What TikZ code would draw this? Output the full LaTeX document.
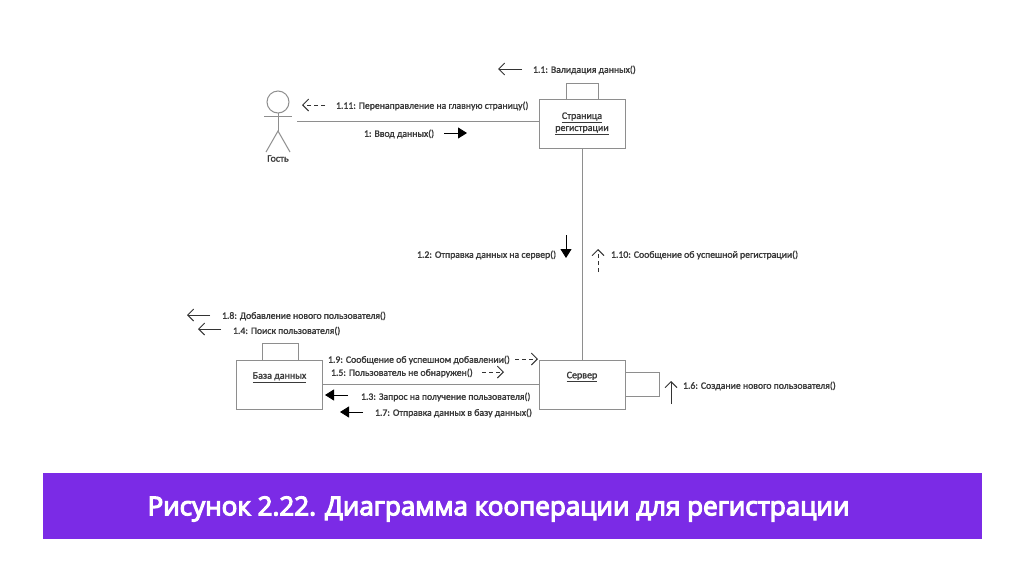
\documentclass[tikz,border=0pt]{standalone}
\usepackage{fontspec}
\setmainfont{Carlito}
\newfontfamily\captionfont[FakeBold=4.5]{Open Sans}
\newfontfamily\labelfont[FakeBold=1.5]{Carlito}
\usetikzlibrary{arrows.meta}
\definecolor{umlgray}{HTML}{8E8E8E}
\definecolor{msgtext}{HTML}{3A3A3A}
\definecolor{bannerviolet}{HTML}{7B2BE6}
\begin{document}
\begin{tikzpicture}[
        x=1pt, y=-1pt,
        every node/.style={inner sep=0pt, outer sep=0pt},
        umlline/.style={draw=umlgray, line width=1pt},
        objbox/.style={umlline, rectangle, minimum width=86pt, minimum height=49pt, text=msgtext, font=\labelfont\fontsize{10}{12}\selectfont, align=center},
        msg/.style={anchor=west, text=msgtext, font=\labelfont\fontsize{9.75}{11}\selectfont},
        openmsg/.style={draw=black!80, line width=0.9pt, -{Straight Barb[length=6pt, width=12pt]}},
        dashmsg/.style={openmsg, dash pattern=on 4pt off 3pt},
        fullmsg/.style={draw=black, line width=0.9pt, -{Triangle[length=9pt, width=11pt]}}
    ]
    \useasboundingbox (0,0) rectangle (1024,574);
    \fill[white] (0,0) rectangle (1024,574);

    \node[objbox] (reg) at (582,123.5) {\underline{Страница}\\\underline{регистрации}};
    \node[objbox] (server) at (582,384.5) [text depth=19pt] {\underline{Сервер}};
    \node[objbox] (base) at (279.5,384.5) [text depth=18pt] {\underline{База данных}};

    \node[umlline, circle, minimum size=22pt] (guesthead) at (278,102) {};
    \coordinate (guesthip) at (278,131);
    \coordinate (guestend) at (297,121);
    \draw[umlline] (guesthead.south) -- (guesthip);
    \draw[umlline] (264,116) -- (292,116);
    \draw[umlline] (266,152) -- (guesthip) -- (290,152);
    \node[text=msgtext, font=\labelfont\fontsize{10}{11}\selectfont] (guest) at (278,158.5) {Гость};

    \draw[umlline] (guestend) -- (reg.west |- guestend);
    \draw[umlline] (reg.south) -- (server.north);
    \draw[umlline] (base.east) -- (server.west);
    \draw[umlline] ([xshift=-16pt]reg.north) -- ++(0,-16) -| ([xshift=16pt]reg.north);
    \draw[umlline] ([xshift=-17pt]base.north) -- ++(0,-17) -| ([xshift=19pt]base.north);
    \draw[umlline] ([yshift=-12pt]server.east) -- ++(34,0) |- ([yshift=12pt]server.east);

    \node[msg] (m1) at (364,134) {1: Ввод данных()};
    \node[msg] (m11) at (533,70) {1.1: Валидация данных()};
    \node[msg] (m111) at (336,106) {1.11: Перенаправление на главную страницу()};
    \node[msg] (m12) at (417,255) {1.2: Отправка данных на сервер()};
    \node[msg] (m110) at (611,255) {1.10: Сообщение об успешной регистрации()};
    \node[msg] (m18) at (222,316) {1.8: Добавление нового пользователя()};
    \node[msg] (m14) at (233,331) {1.4: Поиск пользователя()};
    \node[msg] (m19) at (328,360) {1.9: Сообщение об успешном добавлении()};
    \node[msg] (m15) at (331,373) {1.5: Пользователь не обнаружен()};
    \node[msg] (m13) at (361,397) {1.3: Запрос на получение пользователя()};
    \node[msg] (m17) at (375,413) {1.7: Отправка данных в базу данных()};
    \node[msg] (m16) at (683,386) {1.6: Создание нового пользователя()};

    \draw[fullmsg] (444,133) -- (467,133);
    \draw[openmsg] (522,69) -- (498,69);
    \draw[dashmsg] (325,105) -- (302,105);
    \draw[fullmsg] (566,235) -- (566,258);
    \draw[dashmsg] (598,272) -- (598,249);
    \draw[openmsg] (210,315) -- (187,315);
    \draw[openmsg] (221,329) -- (198,329);
    \draw[dashmsg] (515,359) -- (538,359);
    \draw[dashmsg] (482,372) -- (504,372);
    \draw[fullmsg] (348,395) -- (325,395);
    \draw[fullmsg] (363,412) -- (340,412);
    \draw[openmsg] (671,404) -- (671,381);

    \node[fill=bannerviolet, minimum width=939pt, minimum height=66pt] (banner) at (512.5,506) {};
    \node[text=white, font=\captionfont\fontsize{26}{28}\selectfont] (bannertext) at (498.5,509) {Рисунок 2.22. Диаграмма кооперации для регистрации};
\end{tikzpicture}
\end{document}
